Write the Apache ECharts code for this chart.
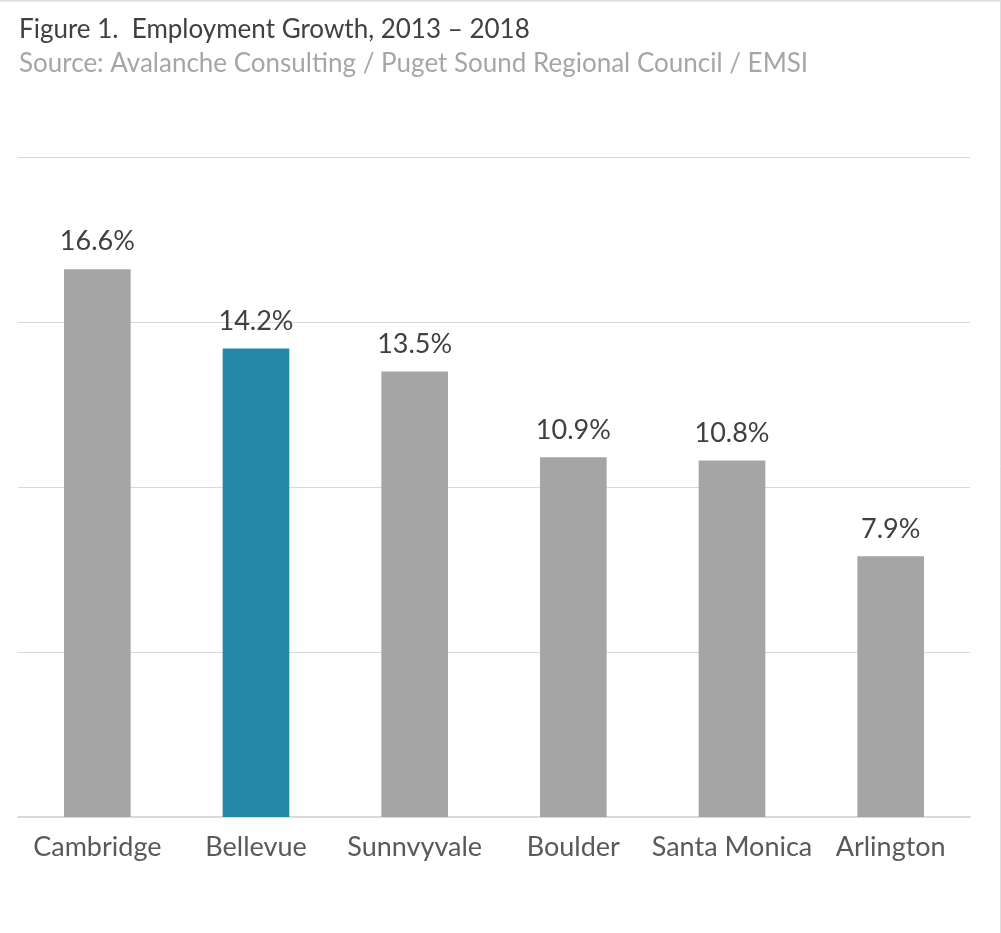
<!DOCTYPE html>
<html>
<head>
<meta charset="utf-8">
<script src="https://cdn.jsdelivr.net/npm/echarts@6/dist/echarts.min.js"></script>
<style>
  html, body { margin: 0; padding: 0; background: #ffffff; }
  #chart { width: 1001px; height: 933px; }
</style>
</head>
<body>
<div id="chart"></div>
<script>
// Employment growth by city, 2013–2018 (percent)
const cities = ['Cambridge', 'Bellevue', 'Sunnvyvale', 'Boulder', 'Santa Monica', 'Arlington'];
const growth = [16.6, 14.2, 13.5, 10.9, 10.8, 7.9];
const highlightCity = 'Bellevue';

const FONT = 'Lato, "Noto Sans", sans-serif';

const chart = echarts.init(document.getElementById('chart'), null, { renderer: 'canvas' });

chart.setOption({
  backgroundColor: '#ffffff',
  animation: false,
  title: {
    text: 'Figure 1.  Employment Growth, 2013 – 2018',
    subtext: 'Source: Avalanche Consulting / Puget Sound Regional Council / EMSI',
    left: 14,
    top: 12,
    itemGap: 8,
    textStyle: { fontFamily: FONT, fontSize: 26, fontWeight: 'normal', color: '#404040' },
    subtextStyle: { fontFamily: FONT, fontSize: 26, color: '#a6a6a6' }
  },
  grid: { left: 18, right: 31, top: 157, bottom: 116, containLabel: false },
  xAxis: {
    type: 'category',
    data: cities,
    axisLine: { lineStyle: { color: '#d9d9d9', width: 2 } },
    axisTick: { show: false },
    axisLabel: { color: '#595959', fontFamily: FONT, fontSize: 27, margin: 17, interval: 0 }
  },
  yAxis: {
    type: 'value',
    min: 0,
    max: 20,
    interval: 5,
    axisLine: { show: false },
    axisTick: { show: false },
    axisLabel: { show: false },
    splitLine: { lineStyle: { color: '#d9d9d9', width: 1 } }
  },
  series: [{
    type: 'bar',
    barWidth: '42%',
    data: growth.map((v, i) => ({
      value: v,
      itemStyle: { color: cities[i] === highlightCity ? '#2588a8' : '#a5a5a5' }
    })),
    label: {
      show: true,
      position: 'top',
      distance: 14,
      color: '#404040',
      fontFamily: FONT,
      fontSize: 27,
      formatter: p => p.value.toFixed(1) + '%'
    }
  }],
  graphic: [
    { type: 'line', shape: { x1: 0, y1: 0.5, x2: 1001, y2: 0.5 }, style: { stroke: '#dcdcdc', lineWidth: 2 } },
    { type: 'line', shape: { x1: 1000.5, y1: 0, x2: 1000.5, y2: 933 }, style: { stroke: '#dcdcdc', lineWidth: 1 } }
  ]
});
</script>
</body>
</html>
